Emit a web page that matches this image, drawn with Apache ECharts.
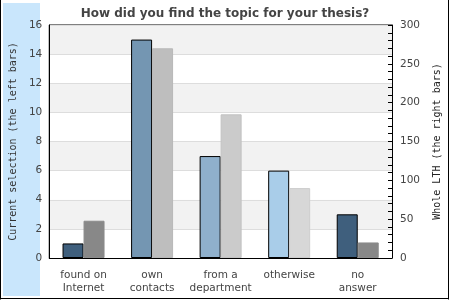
<!DOCTYPE html>
<html><head><meta charset="utf-8">
<script src="https://cdn.jsdelivr.net/npm/echarts@6/dist/echarts.min.js"></script>
<style>html,body{margin:0;padding:0;background:#fff}#c{width:450px;height:300px}</style>
</head><body><div id="c"></div>
<script>
var categories = ['found on\nInternet', 'own\ncontacts', 'from a\ndepartment', 'otherwise', 'no\nanswer'];
var currentSelection = [1, 15, 7, 6, 3];
var wholeLTH = [48, 270, 185, 90, 20];
var leftColors = ['#3f5f7d', '#7496b2', '#8fb0cc', '#a9cde9', '#3f5f7d'];
var rightColors = ['#888888', '#bebebe', '#cbcbcb', '#d7d7d7', '#888888'];
var rightBorders = ['#8c8c8c', '#b8b8b8', '#c2c2c2', '#cdcdcd', '#8c8c8c'];

var chart = echarts.init(document.getElementById('c'), null, {renderer: 'canvas'});
var txt = '#444';
chart.setOption({
  animation: false,
  backgroundColor: '#fff',
  title: {
    text: 'How did you find the topic for your thesis?',
    left: 'center', top: 3,
    textStyle: {fontFamily: 'DejaVu Sans', fontSize: 12, fontWeight: 'bold', color: txt}
  },
  graphic: [
    {type: 'rect', z: -10, silent: true, shape: {x: 3, y: 3, width: 37, height: 293}, style: {fill: '#c9e6fc'}},
    {type: 'line', z: 10, shape: {x1: 0.5, y1: 0, x2: 0.5, y2: 299.5}, style: {stroke: '#000', lineWidth: 1}},
    {type: 'line', z: 10, shape: {x1: 448.5, y1: 0, x2: 448.5, y2: 299.5}, style: {stroke: '#000', lineWidth: 1}},
    {type: 'line', z: 10, shape: {x1: 0, y1: 298.5, x2: 449, y2: 298.5}, style: {stroke: '#000', lineWidth: 1}}
  ],
  grid: {left: 40, top: 25, right: 52, bottom: 42, show: true, borderColor: '#000', borderWidth: 1, backgroundColor: 'transparent'},
  xAxis: {
    type: 'category', data: categories,
    axisLine: {lineStyle: {color: '#000'}},
    axisTick: {show: false},
    axisLabel: {interval: 0, color: txt, fontFamily: 'DejaVu Sans', fontSize: 10.5, lineHeight: 13, margin: 11}
  },
  yAxis: [
    {
      type: 'value', min: 0, max: 16, interval: 2, position: 'left',
      name: 'Current selection (the left bars)', nameLocation: 'middle', nameGap: 30, nameRotate: 90,
      nameTextStyle: {fontFamily: 'DejaVu Sans Mono', fontSize: 10, color: '#333'},
      axisLine: {show: true, lineStyle: {color: '#000'}},
      axisTick: {show: false},
      axisLabel: {color: txt, fontFamily: 'DejaVu Sans', fontSize: 10.5, margin: 7},
      splitLine: {show: true, lineStyle: {color: '#dddddd'}},
      splitArea: {show: true, areaStyle: {color: ['#ffffff', '#f2f2f2']}}
    },
    {
      type: 'value', min: 0, max: 300, interval: 50, position: 'right',
      name: 'Whole LTH (the right bars)', nameLocation: 'middle', nameGap: 40, nameRotate: 90,
      nameTextStyle: {fontFamily: 'DejaVu Sans Mono', fontSize: 10, color: '#222'},
      axisLine: {show: true, lineStyle: {color: '#000'}},
      axisTick: {show: true, inside: true, length: 4, lineStyle: {color: '#000'}},
      minorTick: {show: true, splitNumber: 5, length: 4, lineStyle: {color: '#000'}},
      axisLabel: {color: txt, fontFamily: 'DejaVu Sans', fontSize: 10.5, margin: 8},
      splitLine: {show: false}
    }
  ],
  series: [
    {
      type: 'bar', yAxisIndex: 0, barWidth: 21, barGap: '0%',
      data: currentSelection.map(function (v, i) {
        return {value: v, itemStyle: {color: leftColors[i], borderColor: '#000', borderWidth: 1}};
      })
    },
    {
      type: 'bar', yAxisIndex: 1, barWidth: 21, barGap: '0%',
      data: wholeLTH.map(function (v, i) {
        return {value: v, itemStyle: {color: rightColors[i], borderColor: rightBorders[i], borderWidth: 1}};
      })
    }
  ]
});
</script>
</body></html>
